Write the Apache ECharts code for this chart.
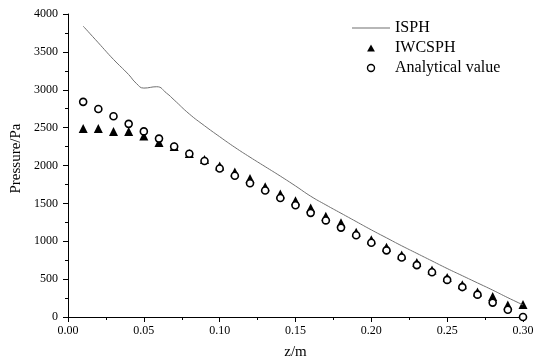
<!DOCTYPE html>
<html>
<head>
<meta charset="utf-8">
<script src="https://cdn.jsdelivr.net/npm/echarts@6/dist/echarts.min.js"></script>
<style>html,body{margin:0;padding:0;background:#fff}#c{width:534px;height:360px}</style>
</head>
<body>
<div id="c"></div>
<script>
const zPoints = [0.01,0.02,0.03,0.04,0.05,0.06,0.07,0.08,0.09,0.10,0.11,0.12,0.13,0.14,0.15,0.16,0.17,0.18,0.19,0.20,0.21,0.22,0.23,0.24,0.25,0.26,0.27,0.28,0.29,0.30];
const iwcsph = [2490,2490,2450,2450,2390,2305,2250,2160,2080,1995,1915,1830,1720,1625,1535,1440,1330,1245,1120,1020,920,820,720,620,520,425,330,270,160,165];
const analytical = [2840,2745,2650,2550,2450,2355,2250,2155,2060,1960,1865,1765,1670,1570,1475,1375,1275,1180,1080,980,880,785,685,590,490,395,295,190,95,0];
const isphZ = [0.01,0.02,0.03,0.04,0.045,0.05,0.0585,0.065,0.07,0.08,0.09,0.10,0.11,0.12,0.13,0.14,0.15,0.16,0.17,0.18,0.19,0.20,0.21,0.22,0.23,0.24,0.25,0.26,0.27,0.28,0.29,0.30];
const isph = [3840,3620,3400,3200,3085,3022,3040,2955,2865,2680,2525,2380,2240,2110,1985,1860,1730,1595,1480,1370,1260,1150,1045,940,840,740,640,545,450,355,255,160];
const xTicks = ['0.00','0.05','0.10','0.15','0.20','0.25','0.30'];
const yTicks = [0,500,1000,1500,2000,2500,3000,3500,4000];

const font = 'Liberation Serif';
const chart = echarts.init(document.getElementById('c'));
chart.setOption({
  animation: false,
  textStyle: {fontFamily: font, color: '#000'},
  grid: {left: 68, right: 11, top: 14, bottom: 43, outerBoundsMode: 'none', containLabel: false},
  legend: {
    orient: 'vertical', left: 347, top: 15, itemWidth: 38, itemHeight: 7, itemGap: 4,
    symbolKeepAspect: true,
    textStyle: {fontFamily: font, fontSize: 16, color: '#000'},
    data: [
      {name: 'ISPH', icon: 'path://M0,0h38v1h-38z', itemStyle: {color: '#707070'}},
      {name: 'IWCSPH', icon: 'path://M5,0L10,9L0,9Z', itemStyle: {color: '#000', opacity: 1}},
      {name: 'Analytical value', icon: 'circle', itemStyle: {color: '#fff', borderColor: '#000', borderWidth: 1.4, opacity: 1}}
    ]
  },
  xAxis: {
    type: 'value', min: 0, max: 0.3, interval: 0.05,
    name: 'z/m', nameLocation: 'middle', nameGap: 28,
    nameTextStyle: {fontFamily: font, fontSize: 15, color: '#000'},
    axisLine: {show: true, onZero: false, lineStyle: {color: '#000', width: 1}},
    axisTick: {show: true, inside: false, length: 5, lineStyle: {color: '#000'}},
    minorTick: {show: true, splitNumber: 2, length: 3, lineStyle: {color: '#000'}},
    splitLine: {show: false},
    axisLabel: {fontFamily: font, fontSize: 12, color: '#000', margin: 8, formatter: v => xTicks[Math.round(v / 0.05)]}
  },
  yAxis: {
    type: 'value', min: 0, max: 4000, interval: 500,
    name: 'Pressure/Pa', nameLocation: 'middle', nameGap: 42,
    nameTextStyle: {fontFamily: font, fontSize: 15, color: '#000', padding: [0, 0, 0, 14]},
    axisLine: {show: true, onZero: false, lineStyle: {color: '#000', width: 1}},
    axisTick: {show: true, inside: false, length: 5, lineStyle: {color: '#000'}},
    minorTick: {show: true, splitNumber: 2, length: 3, lineStyle: {color: '#000'}},
    splitLine: {show: false},
    axisLabel: {fontFamily: font, fontSize: 12, color: '#000', margin: 10, formatter: v => String(yTicks[Math.round(v / 500)])}
  },
  series: [
    {
      name: 'ISPH', type: 'line', symbol: 'none', smooth: 0.5,
      lineStyle: {color: '#707070', width: 1},
      itemStyle: {color: '#707070'},
      data: isphZ.map((z, i) => [z, isph[i]])
    },
    {
      name: 'IWCSPH', type: 'scatter', symbol: 'triangle', symbolSize: 9,
      itemStyle: {color: '#000', opacity: 1},
      data: zPoints.map((z, i) => [z, iwcsph[i]])
    },
    {
      name: 'Analytical value', type: 'scatter', symbol: 'circle', symbolSize: 7,
      itemStyle: {color: '#fff', borderColor: '#000', borderWidth: 1.6, opacity: 1},
      data: zPoints.map((z, i) => [z, analytical[i]])
    }
  ]
});
</script>
</body>
</html>
